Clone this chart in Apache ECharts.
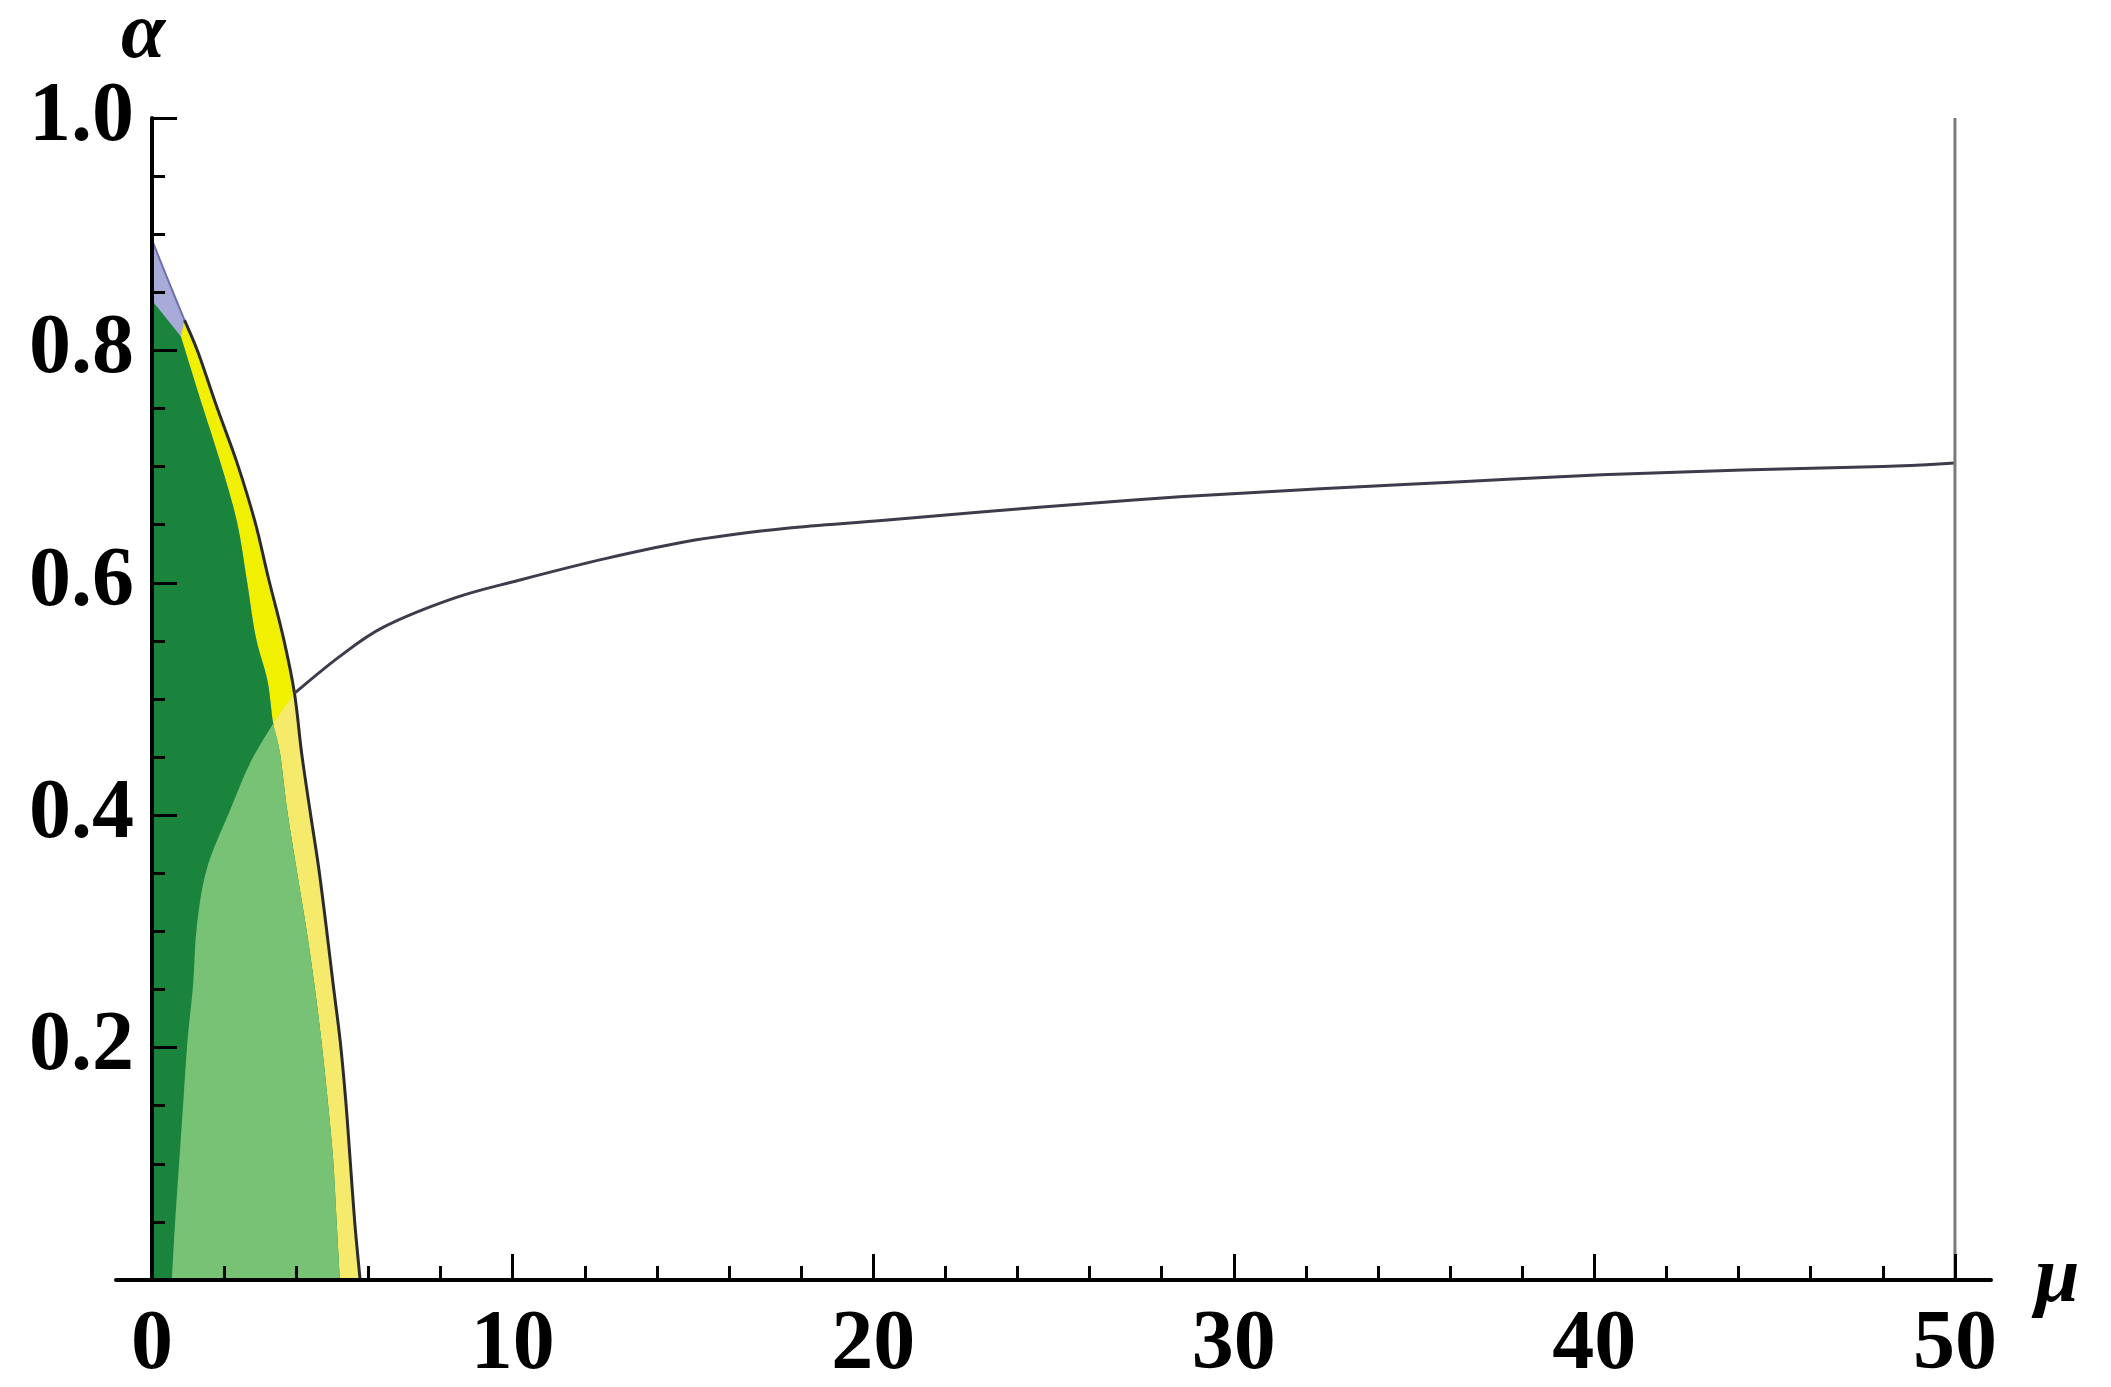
<!DOCTYPE html>
<html>
<head>
<meta charset="utf-8">
<script src="https://cdn.jsdelivr.net/npm/echarts@6/dist/echarts.min.js"></script>
<style>
html, body { margin: 0; padding: 0; background: #fff; }
#chart { width: 2111px; height: 1387px; }
</style>
</head>
<body>
<div id="chart"></div>
<script>
// outer edge of the yellow strip, top to bottom
var outerMu = [0, 0.45, 0.9, 1.28, 1.80, 2.36, 2.86, 3.22, 3.64, 3.95, 4.15, 4.38, 4.62, 4.83, 5.02, 5.22, 5.37, 5.49, 5.62, 5.77]
var outerAlpha = [0.895, 0.86, 0.826, 0.798, 0.751, 0.703, 0.652, 0.605, 0.553, 0.505, 0.453, 0.404, 0.355, 0.304, 0.255, 0.205, 0.155, 0.105, 0.05, 0]

// inner edge of the yellow strip (green border), top to bottom
var innerMu = [0.80, 1.41, 1.90, 2.36, 2.63, 2.88, 3.20, 3.36, 3.55, 3.75, 4.00, 4.27, 4.50, 4.70, 4.87, 5.02, 5.12, 5.21]
var innerAlpha = [0.812, 0.751, 0.703, 0.652, 0.602, 0.553, 0.516, 0.479, 0.453, 0.404, 0.355, 0.304, 0.255, 0.205, 0.155, 0.105, 0.05, 0]

// left border of the light green zone, bottom to top
var lightMu = [0.55, 0.64, 0.76, 0.87, 0.98, 1.14, 1.24, 1.52, 2.16, 2.72, 3.36]
var lightAlpha = [0, 0.05, 0.105, 0.155, 0.205, 0.255, 0.304, 0.354, 0.404, 0.445, 0.479]

// curve leaving the strip towards mu = 50
var upperMu = [3.95, 5.18, 6.43, 8.4, 10.15, 12.6, 15.1, 17.6, 20.4, 24.6, 28.5, 32.4, 36.3, 40.2, 44.1, 48, 50]
var upperAlpha = [0.505, 0.536, 0.562, 0.587, 0.602, 0.621, 0.637, 0.647, 0.654, 0.665, 0.674, 0.681, 0.687, 0.693, 0.697, 0.700, 0.703]

var greenTop = 0.843 // dark green reaches this alpha on the axis
var xTicks = [0, 10, 20, 30, 40, 50]
var xMinor = [2, 4, 6, 8, 12, 14, 16, 18, 22, 24, 26, 28, 32, 34, 36, 38, 42, 44, 46, 48]
var yTicks = [0.2, 0.4, 0.6, 0.8, 1.0]

function zip(a, b) {
	return a.map(function (v, i) { return [v, b[i]] })
}

var outer = zip(outerMu, outerAlpha)
var inner = zip(innerMu, innerAlpha)
var light = zip(lightMu, lightAlpha)
var upper = zip(upperMu, upperAlpha)
var joinIn = innerMu.indexOf(3.36)
var joinOut = outerMu.indexOf(3.95)
var capOut = outerMu.indexOf(0.9)

// path through pixel points; curved parts go through a catmull-rom spline
function buildPath(parts, api, close) {
	var d = ''
	parts.forEach(function (part) {
		var p = part.pts.map(function (v) { return api.coord(v) })
		d += (d ? ' L ' : 'M ') + p[0][0] + ' ' + p[0][1]
		for (var i = 0; i < p.length - 1; i++) {
			if (!part.smooth) {
				d += ' L ' + p[i + 1][0] + ' ' + p[i + 1][1]
				continue
			}
			var a = p[i - 1] || p[i], b = p[i], c = p[i + 1], e = p[i + 2] || c
			d += ' C ' + (b[0] + (c[0] - a[0]) / 6) + ' ' + (b[1] + (c[1] - a[1]) / 6) +
				' ' + (c[0] - (e[0] - b[0]) / 6) + ' ' + (c[1] - (e[1] - b[1]) / 6) +
				' ' + c[0] + ' ' + c[1]
		}
	})
	return close ? d + ' Z' : d
}

function shape(name, parts, style, close) {
	var data = []
	parts.forEach(function (part) { data = data.concat(part.pts) })
	return {
		type: 'custom',
		name: name,
		data: data,
		silent: true,
		renderItem: function (params, api) {
			if (params.dataIndex !== 0) return
			return {
				type: 'path',
				shape: { pathData: buildPath(parts, api, close) },
				style: style
			}
		}
	}
}

function fill(name, parts, color) {
	return shape(name, parts, { fill: color }, true)
}

function stroke(name, pts, color, width) {
	return shape(name, [{ pts: pts, smooth: true }], { fill: null, stroke: color, lineWidth: width }, false)
}

var font = 'Liberation Serif'
var labelStyle = { fontFamily: font, fontSize: 84, fontWeight: 'bold', color: '#000' }
var nameStyle = { fontFamily: font, fontSize: 80, fontStyle: 'italic', fontWeight: 'bold', color: '#000' }

var gridLeft = 116
var gridRight = 120
var xMin = -1
var xMax = 51
// y axis sits on mu = 0, shifted in from the grid's left edge
var yShift = (0 - xMin) / (xMax - xMin) * (2111 - gridLeft - gridRight)

var myChart = echarts.init(document.getElementById('chart'))
myChart.setOption({
	animation: false,
	backgroundColor: '#fff',
	grid: { left: gridLeft, right: gridRight, top: 118, bottom: 107, outerBoundsMode: 'none', containLabel: false },
	xAxis: [
		{
			type: 'value',
			min: xMin,
			max: xMax,
			position: 'bottom',
			z: 5,
			name: 'μ',
			nameLocation: 'end',
			nameGap: 44,
			nameTextStyle: Object.assign({ padding: [62, 0, 0, 0] }, nameStyle),
			axisLine: { show: true, onZero: false, lineStyle: { color: '#000', width: 4 } },
			axisTick: { inside: true, length: 26, customValues: xTicks, lineStyle: { color: '#000', width: 3 } },
			splitLine: { show: false },
			axisLabel: Object.assign({ margin: 24, customValues: xTicks }, labelStyle)
		},
		{
			type: 'value',
			min: xMin,
			max: xMax,
			position: 'bottom',
			z: 5,
			axisLine: { show: false, onZero: false },
			axisTick: { inside: true, length: 14, customValues: xMinor, lineStyle: { color: '#000', width: 3 } },
			splitLine: { show: false },
			axisLabel: { show: false }
		}
	],
	yAxis: {
		type: 'value',
		min: 0,
		max: 1,
		interval: 0.2,
		position: 'left',
		offset: -yShift,
		z: 5,
		name: 'α',
		nameLocation: 'end',
		nameGap: 36,
		nameTextStyle: Object.assign({ padding: [0, 18, 0, 0] }, nameStyle),
		axisLine: { show: true, onZero: false, lineStyle: { color: '#000', width: 4 } },
		axisTick: { inside: true, length: 25, lineStyle: { color: '#000', width: 3 } },
		minorTick: { show: true, splitNumber: 4, length: 13, lineStyle: { color: '#000', width: 3 } },
		splitLine: { show: false },
		axisLabel: Object.assign({
			margin: 18,
			formatter: function (v) {
				var hit = yTicks.filter(function (t) { return Math.abs(t - v) < 1e-9 })
				return hit.length ? hit[0].toFixed(1) : ''
			}
		}, labelStyle)
	},
	series: [
		fill('lavender', [
			{ pts: [[0, 0]], smooth: false },
			{ pts: outer, smooth: true }
		], '#a8aad8'),
		fill('yellow', [
			{ pts: outer.slice(capOut), smooth: true },
			{ pts: inner.slice().reverse(), smooth: true }
		], '#f0f000'),
		fill('paleYellow', [
			{ pts: inner.slice(joinIn), smooth: true },
			{ pts: outer.slice(joinOut).reverse(), smooth: true }
		], '#f6ea6c'),
		fill('darkGreen', [
			{ pts: [[0, 0], [0, greenTop]], smooth: false },
			{ pts: inner, smooth: true }
		], '#1a843c'),
		fill('lightGreen', [
			{ pts: light, smooth: true },
			{ pts: inner.slice(joinIn), smooth: true }
		], '#78c275'),
		stroke('outerTop', outer.slice(0, capOut + 1), '#6e70b0', 2),
		stroke('outer', outer.slice(capOut), '#2b2b2b', 3),
		stroke('upper', upper, '#3c3c4c', 3),
		stroke('edge', [[50, 0], [50, 1]], '#7a7a7a', 3)
	]
})
</script>
</body>
</html>
